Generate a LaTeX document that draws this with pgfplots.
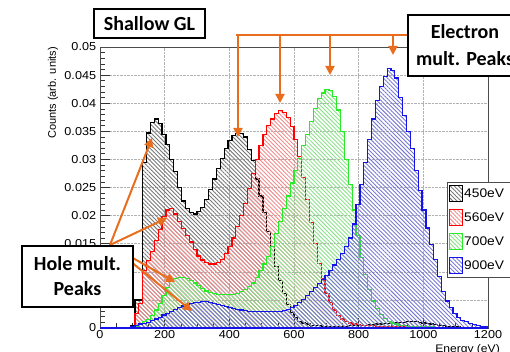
\documentclass[border=0pt]{standalone}
\usepackage{fontspec}
\setmainfont{Liberation Sans}
\newfontfamily\carlito{Carlito}
\usepackage{pgfplots}
\usepackage{pgfplotstable}
\pgfplotsset{compat=1.18}
\usetikzlibrary{patterns.meta,arrows.meta}
\definecolor{hatchK}{RGB}{120,120,120}
\definecolor{hatchR}{RGB}{240,140,140}
\definecolor{hatchG}{RGB}{140,225,140}
\definecolor{hatchB}{RGB}{120,120,210}
\definecolor{lineG}{RGB}{40,235,40}
\definecolor{lineB}{RGB}{20,20,230}
\definecolor{orng}{RGB}{232,110,30}
\pgfplotstableread{
x k r g b
0 0 0 0 0
12 0 0 0 0
24 0 0 0 0
36 0 0 0 0
48 0 0 0 0
60 0 0 0 0
72 0 0 0 0
84 0 0 0 0
96 0.0005 0 0 0.0002
108 0.0050 0.0026 0.0003 0.0005
120 0.0050 0.0044 0.0008 0.0007
132 0.0294 0.0102 0.0011 0.0008
144 0.0347 0.0120 0.0015 0.0010
156 0.0366 0.0136 0.0022 0.0013
168 0.0372 0.0155 0.0032 0.0016
180 0.0364 0.0175 0.0044 0.0019
192 0.0345 0.0198 0.0058 0.0023
204 0.0326 0.0210 0.0072 0.0026
216 0.0300 0.0212 0.0083 0.0030
228 0.0278 0.0203 0.0088 0.0033
240 0.0250 0.0190 0.0090 0.0036
252 0.0226 0.0177 0.0090 0.0039
264 0.0212 0.0165 0.0088 0.0042
276 0.0205 0.0153 0.0085 0.0044
288 0.0203 0.0140 0.0080 0.0046
300 0.0207 0.0128 0.0075 0.0046
312 0.0214 0.0121 0.0070 0.0047
324 0.0228 0.0117 0.0066 0.0047
336 0.0247 0.0114 0.0063 0.0046
348 0.0265 0.0114 0.0061 0.0044
360 0.0284 0.0117 0.0060 0.0042
372 0.0302 0.0122 0.0059 0.0040
384 0.0320 0.0133 0.0059 0.0038
396 0.0334 0.0145 0.0059 0.0036
408 0.0342 0.0160 0.0060 0.0034
420 0.0346 0.0180 0.0062 0.0033
432 0.0346 0.0200 0.0065 0.0032
444 0.0340 0.0222 0.0068 0.0031
456 0.0318 0.0248 0.0074 0.0030
468 0.0298 0.0275 0.0080 0.0029
480 0.0265 0.0300 0.0090 0.0029
492 0.0235 0.0325 0.0102 0.0029
504 0.0205 0.0345 0.0114 0.0029
516 0.0172 0.0360 0.0127 0.0029
528 0.0145 0.0372 0.0145 0.0029
540 0.0110 0.0382 0.0168 0.0029
552 0.0085 0.0387 0.0190 0.0030
564 0.0062 0.0384 0.0212 0.0031
576 0.0042 0.0375 0.0235 0.0033
588 0.0028 0.0358 0.0258 0.0036
600 0.0018 0.0335 0.0280 0.0040
612 0.0012 0.0305 0.0302 0.0045
624 0.0009 0.0268 0.0325 0.0051
636 0.0007 0.0228 0.0345 0.0058
648 0.0005 0.0188 0.0368 0.0065
660 0.0004 0.0150 0.0390 0.0072
672 0.0004 0.0115 0.0408 0.0079
684 0.0003 0.0088 0.0418 0.0086
696 0.0003 0.0062 0.0424 0.0094
708 0.0003 0.0045 0.0422 0.0103
720 0.0003 0.0032 0.0412 0.0112
732 0.0003 0.0022 0.0388 0.0122
744 0.0003 0.0016 0.0350 0.0132
756 0.0003 0.0012 0.0300 0.0145
768 0.0004 0.0009 0.0255 0.0160
780 0.0004 0.0007 0.0210 0.0185
792 0.0004 0.0006 0.0165 0.0220
804 0.0005 0.0005 0.0125 0.0255
816 0.0005 0.0004 0.0095 0.0295
828 0.0006 0.0004 0.0068 0.0335
840 0.0006 0.0004 0.0048 0.0372
852 0.0007 0.0003 0.0034 0.0405
864 0.0007 0.0003 0.0024 0.0430
876 0.0008 0.0003 0.0017 0.0448
888 0.0008 0.0003 0.0012 0.0462
900 0.0009 0.0002 0.0009 0.0458
912 0.0009 0.0002 0.0007 0.0445
924 0.0010 0.0002 0.0005 0.0410
936 0.0010 0.0002 0.0004 0.0378
948 0.0011 0.0002 0.0003 0.0350
960 0.0011 0.0002 0.0003 0.0320
972 0.0011 0.0001 0.0003 0.0280
984 0.0010 0.0001 0.0002 0.0245
996 0.0009 0.0001 0.0002 0.0210
1008 0.0008 0.0001 0.0002 0.0178
1020 0.0007 0.0001 0.0002 0.0148
1032 0.0006 0.0001 0.0001 0.0122
1044 0.0005 0.0001 0.0001 0.0092
1056 0.0004 0.0001 0.0001 0.0065
1068 0.0003 0.0001 0.0001 0.0048
1080 0.0003 0 0.0001 0.0036
1092 0.0002 0 0.0001 0.0026
1104 0.0002 0 0 0.0019
1116 0.0001 0 0 0.0014
1128 0.0001 0 0 0.0011
1140 0.0001 0 0 0.0008
1152 0 0 0 0.0006
1164 0 0 0 0.0005
1176 0 0 0 0.0003
1188 0 0 0 0.0002
1200 0 0 0 0.0002
}\histdata
\begin{document}
\begin{tikzpicture}[x=1pt,y=1pt]
\path[use as bounding box] (0pt,0pt) rectangle (510pt,351pt);
\clip (0pt,0pt) rectangle (510pt,351pt);
\begin{axis}[
  at={(100pt,23pt)}, anchor=south west,
  width=388pt, height=281pt, scale only axis,
  xmin=0, xmax=1200, ymin=0, ymax=0.05,
  xtick={0,200,400,600,800,1000,1200},
  xticklabels={0,200,400,600,800,1000,1200},
  ytick={0,0.005,0.01,0.015,0.02,0.025,0.03,0.035,0.04,0.045,0.05},
  yticklabels={0,0.005,0.01,0.015,0.02,0.025,0.03,0.035,0.04,0.045,0.05},
  scaled y ticks=false, scaled x ticks=false,
  minor x tick num=3, minor y tick num=4,
  xtick pos=bottom, ytick pos=left,
  tick align=inside,
  major tick length=10pt, minor tick length=5pt,
  tick style={gray!40!black, line width=0.6pt},
  grid=major,
  major grid style={densely dotted, gray!60, line width=0.6pt},
  axis line style={gray!60!black, line width=0.9pt},
  /pgf/number format/assume math mode=true,
  every tick label/.append style={font=\fontsize{11.5}{13}\selectfont, xscale=1.1},
  xticklabel style={yshift=1pt},
  xlabel={Energy (eV)},
  xlabel style={at={(axis description cs:1.031,0)}, anchor=north east, yshift=-16pt, font=\fontsize{11}{13}\selectfont, xscale=1.1, inner sep=0pt},
  ylabel={Counts (arb. units)},
  ylabel style={at={(axis description cs:-0.121,1)}, anchor=east, font=\fontsize{11}{13}\selectfont, inner sep=0pt},
  legend style={at={(axis description cs:0.8936,0.5206)}, anchor=north west,
    draw=gray!60!black, line width=0.8pt, fill=white,
    font=\fontsize{12.5}{14}\selectfont,
    row sep=7pt, inner xsep=2pt, inner ysep=3pt,
    nodes={inner sep=1pt, text width=60pt, xscale=1.1}},
  legend cell align=left,
  legend image code/.code={\draw[#1, line width=1pt] (0pt,-8pt) rectangle (13pt,8pt);},
]
\addplot[const plot, draw=black, line width=1.2pt,
  pattern={Lines[angle=-45,distance=2.9pt,line width=0.9pt]}, pattern color=hatchK]
  table[x=x,y=k]{\histdata} \closedcycle;
\addlegendentry{450eV}
\addplot[const plot, draw=red, line width=1.2pt,
  pattern={Lines[angle=-45,distance=2.9pt,line width=0.9pt]}, pattern color=hatchR]
  table[x=x,y=r]{\histdata} \closedcycle;
\addlegendentry{560eV}
\addplot[const plot, draw=lineG, line width=1.2pt,
  pattern={Lines[angle=-45,distance=2.9pt,line width=0.9pt]}, pattern color=hatchG]
  table[x=x,y=g]{\histdata} \closedcycle;
\addlegendentry{700eV}
\addplot[const plot, draw=lineB, line width=1.2pt,
  pattern={Lines[angle=-45,distance=2.9pt,line width=0.9pt]}, pattern color=hatchB]
  table[x=x,y=b]{\histdata} \closedcycle;
\addlegendentry{900eV}
\end{axis}
% electron multiplication arrows
\draw[orng, line width=2pt] (236pt,316pt) -- (410pt,316pt);
\foreach \xx/\yy in {238/214, 280/248, 330/276, 393/296}{
  \draw[orng, line width=2pt, -{Triangle[width=9pt,length=9pt]}] (\xx pt,316pt) -- (\xx pt,\yy pt);
}
% hole multiplication arrows
\foreach \xx/\yy in {152/213, 167/133, 175/69, 192/40}{
  \draw[orng, line width=2pt, -{Triangle[width=9pt,length=9pt]}] (110pt,106pt) -- (\xx pt,\yy pt);
}
% boxes
\node[draw=black, line width=1.5pt, fill=white, minimum width=111pt, minimum height=29pt, inner sep=0pt,
  font=\carlito\bfseries\fontsize{20}{24}\selectfont] at (149.5pt,327.5pt) {Shallow GL};
\node[draw=black, line width=1.5pt, fill=white, minimum width=114pt, minimum height=61pt, inner sep=0pt,
  align=center, font=\carlito\bfseries\fontsize{20}{27}\selectfont] at (465pt,305.5pt) {Electron\\mult. Peaks};
\node[draw=black, line width=1.5pt, fill=white, minimum width=111pt, minimum height=61pt, inner sep=0pt,
  align=center, font=\carlito\bfseries\fontsize{20}{25}\selectfont] at (77.5pt,74.5pt) {Hole mult.\\Peaks};
\end{tikzpicture}
\end{document}
